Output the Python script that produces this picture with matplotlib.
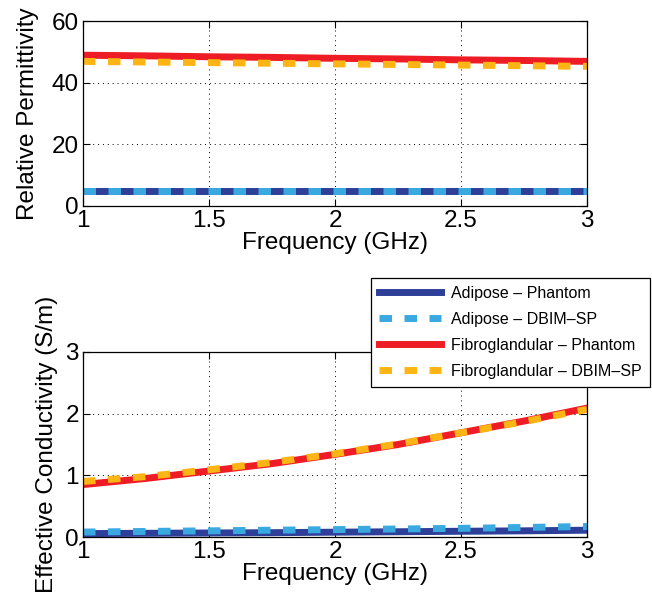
import matplotlib.pyplot as plt

plt.rcParams['font.family'] = ['Liberation Sans', 'DejaVu Sans']

freq = [1.0, 1.25, 1.5, 1.75, 2.0, 2.25, 2.5, 2.75, 3.0]

# relative permittivity
eps_adi_ph = [4.8, 4.8, 4.8, 4.8, 4.8, 4.8, 4.8, 4.8, 4.8]
eps_adi_db = [5.0, 5.0, 5.0, 5.0, 5.0, 5.0, 5.0, 5.0, 5.0]
eps_fib_ph = [48.9, 48.7, 48.4, 48.2, 47.9, 47.7, 47.4, 47.2, 46.9]
eps_fib_db = [46.9, 46.7, 46.5, 46.3, 46.1, 45.9, 45.7, 45.5, 45.3]

# effective conductivity (S/m)
sig_adi_ph = [0.055, 0.06, 0.065, 0.07, 0.078, 0.085, 0.093, 0.10, 0.11]
sig_adi_db = [0.08, 0.09, 0.10, 0.11, 0.12, 0.13, 0.14, 0.155, 0.17]
sig_fib_ph = [0.85, 0.95, 1.07, 1.19, 1.34, 1.50, 1.69, 1.88, 2.09]
sig_fib_db = [0.90, 0.98, 1.09, 1.21, 1.35, 1.51, 1.69, 1.87, 2.07]

labels = ['Adipose \u2013 Phantom', 'Adipose \u2013 DBIM\u2013SP',
          'Fibroglandular \u2013 Phantom', 'Fibroglandular \u2013 DBIM\u2013SP']
colors = ['#2e3f99', '#3aa9e0', '#ee1c24', '#fdb515']
styles = ['-', (0, (1.8, 1.8)), '-', (0, (1.8, 1.8))]

W, H = 652, 605
fig = plt.figure(figsize=(W / 100, H / 100), dpi=100)
ax1 = fig.add_axes([83 / W, 1 - 206 / H, 504 / W, 185 / H])
ax2 = fig.add_axes([83 / W, 1 - 537 / H, 504 / W, 185 / H])


def style_axes(ax, yticks, ylabel, ypad):
    ax.set_xlim(1, 3)
    ax.set_xticks([1, 1.5, 2, 2.5, 3])
    ax.set_xticklabels(['1', '1.5', '2', '2.5', '3'])
    ax.set_ylim(yticks[0], yticks[-1])
    ax.set_yticks(yticks)
    ax.tick_params(direction='in', top=True, right=True, labelsize=17.5,
                   length=5, width=0.8, pad=3)
    ax.grid(True, linestyle=(0, (1, 4)), color='black', linewidth=0.7)
    ax.set_xlabel('Frequency (GHz)', fontsize=17.5, labelpad=0)
    ax.set_ylabel(ylabel, fontsize=17.5, labelpad=ypad)
    for s in ax.spines.values():
        s.set_linewidth(0.9)


top_series = [eps_adi_ph, eps_adi_db, eps_fib_ph, eps_fib_db]
bot_series = [sig_adi_ph, sig_adi_db, sig_fib_ph, sig_fib_db]

for y, c, ls in zip(top_series, colors, styles):
    ax1.plot(freq, y, color=c, linestyle=ls, linewidth=5, dash_capstyle='butt')
lines = []
for y, c, ls, lab in zip(bot_series, colors, styles, labels):
    ln, = ax2.plot(freq, y, color=c, linestyle=ls, linewidth=5,
                   dash_capstyle='butt', label=lab)
    lines.append(ln)

style_axes(ax1, [0, 20, 40, 60], 'Relative Permittivity', 9)
style_axes(ax2, [0, 1, 2, 3], 'Effective Conductivity (S/m)', 5)

leg = fig.legend(handles=lines, loc='upper left',
                 bbox_to_anchor=(371 / W, 1 - 278 / H),
                 fontsize=11.5, frameon=True, fancybox=False, framealpha=1,
                 edgecolor='black', handlelength=3.9, borderpad=0.5,
                 labelspacing=0.68, handletextpad=0.6, borderaxespad=0)
leg.get_frame().set_linewidth(0.9)

fig.savefig('out.png', dpi=100)
